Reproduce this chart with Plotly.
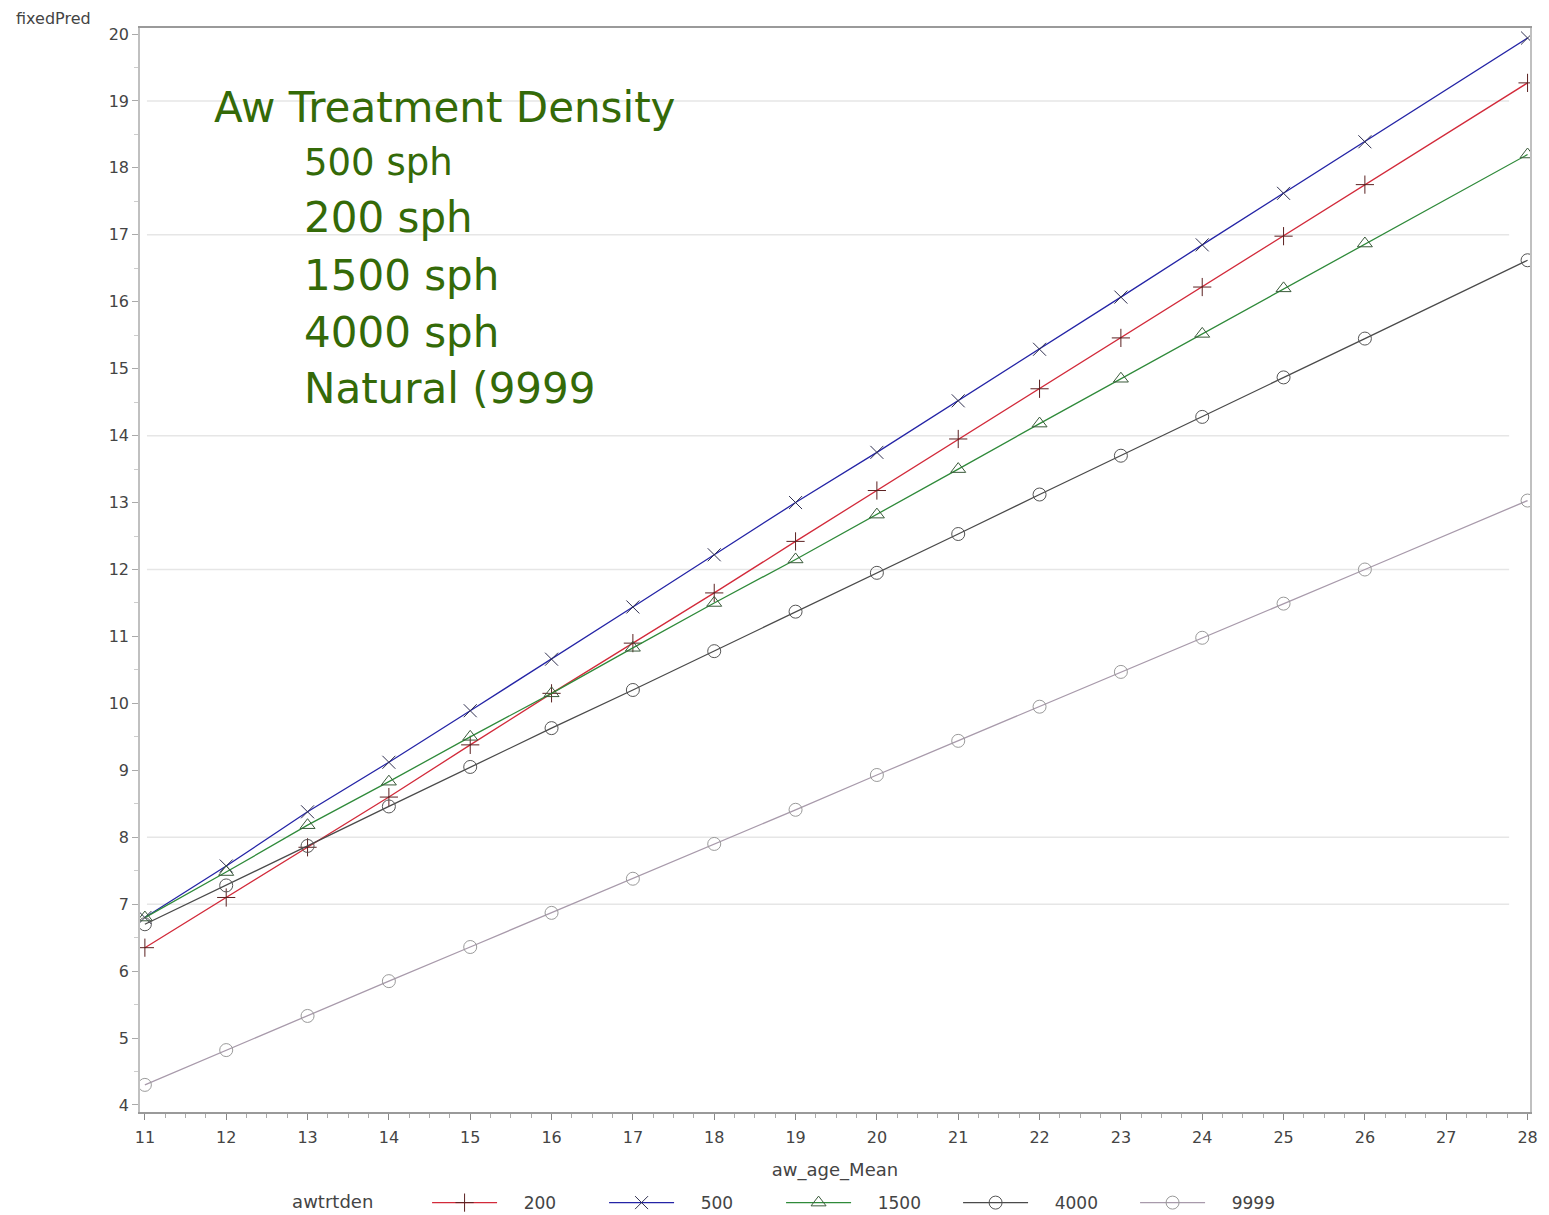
import plotly.graph_objects as go

# ---- data ----
ages = [11, 12, 13, 14, 15, 16, 17, 18, 19, 20, 21, 22, 23, 24, 25, 26, 28]

pred_200 = [6.35, 7.10, 7.85, 8.60, 9.38, 10.15, 10.90, 11.65, 12.42, 13.18, 13.95, 14.70, 15.46, 16.22, 16.98, 17.75, 19.27]
pred_500 = [6.80, 7.57, 8.38, 9.12, 9.89, 10.66, 11.44, 12.22, 13.00, 13.75, 14.52, 15.29, 16.07, 16.85, 17.62, 18.39, 19.94]
pred_1500 = [6.80, 7.48, 8.18, 8.83, 9.50, 10.15, 10.83, 11.50, 12.15, 12.82, 13.50, 14.18, 14.85, 15.52, 16.20, 16.87, 18.20]
pred_4000 = [6.70, 7.28, 7.87, 8.46, 9.05, 9.63, 10.20, 10.78, 11.37, 11.95, 12.53, 13.12, 13.70, 14.28, 14.87, 15.45, 16.62]
pred_9999 = [4.30, 4.82, 5.33, 5.85, 6.36, 6.87, 7.38, 7.90, 8.41, 8.93, 9.44, 9.95, 10.47, 10.98, 11.49, 12.00, 13.03]

series_names = ["200", "500", "1500", "4000", "9999"]
series_values = [pred_200, pred_500, pred_1500, pred_4000, pred_9999]
line_colors = ["#d22a3a", "#2424a6", "#2f8a3a", "#4a4a4a", "#a89aab"]
marker_colors = ["#5a2020", "#303050", "#3a5a3a", "#555555", "#9a9a9a"]
marker_symbols = ["cross-thin-open", "x-thin-open", "triangle-up-open", "circle-open", "circle-open"]

x_ticks = list(range(11, 29))
y_ticks = list(range(4, 21))
grid_values = [19, 17, 14, 12, 8, 7]

annot_title = "Aw Treatment Density"
annot_lines = ["500 sph", "200 sph", "1500 sph", "4000 sph", "Natural (9999"]
annot_sizes = [37, 42, 42, 42, 42]

# ---- figure ----
NB = "\u00a0"
fig = go.Figure()
for name, vals, lc, mc, sym in zip(series_names, series_values, line_colors, marker_colors, marker_symbols):
    fig.add_trace(go.Scatter(
        x=ages, y=vals, name=NB * 4 + name, mode="lines+markers",
        line=dict(color=lc, width=1.3),
        marker=dict(symbol=sym, size=13, color=mc, line=dict(width=1, color=mc)),
    ))

for gv in grid_values:
    fig.add_shape(type="line", xref="paper", yref="y", x0=0.005, x1=0.985, y0=gv, y1=gv,
                  line=dict(color="#e6e6e6", width=1.5), layer="below")

green = "#346a08"
fig.add_annotation(text=annot_title, xref="paper", yref="paper", x=0.0518, y=0.927,
                   xanchor="left", yanchor="middle", showarrow=False,
                   font=dict(family="DejaVu Sans", size=42, color=green))
line_ys = [0.876, 0.825, 0.772, 0.719, 0.667]
for txt, sz, yy in zip(annot_lines, annot_sizes, line_ys):
    fig.add_annotation(text=txt, xref="paper", yref="paper", x=0.1165, y=yy,
                       xanchor="left", yanchor="middle", showarrow=False,
                       font=dict(family="DejaVu Sans", size=sz, color=green))

axis_font = dict(family="DejaVu Sans", size=16, color="#444444")
fig.add_annotation(text="fixedPred", xref="paper", yref="paper", x=-0.091, y=1.009,
                   xanchor="left", yanchor="middle", showarrow=False,
                   font=dict(family="DejaVu Sans", size=16, color="#444444"))

fig.update_xaxes(
    range=[10.94, 28.03], tickvals=x_ticks, ticks="outside", ticklen=6, tickcolor="#888888",
    showline=True, linecolor="#9a9a9a", linewidth=1.5, mirror=True, showgrid=False, zeroline=False,
    tickfont=axis_font, ticklabelstandoff=4,
    minor=dict(ticks="outside", ticklen=4, dtick=0.25, tickcolor="#aaaaaa"),
    title=dict(text="aw_age_Mean", font=dict(family="DejaVu Sans", size=18, color="#444444"), standoff=17),
)
fig.update_yaxes(
    range=[3.895, 20.09], tickvals=y_ticks, ticks="outside", ticklen=6, tickcolor="#aaaaaa",
    showline=True, linecolor="#c0c0c0", linewidth=1.5, mirror=True, showgrid=False, zeroline=False,
    tickfont=axis_font,
    minor=dict(ticks="outside", ticklen=4, dtick=0.5, tickcolor="#cccccc"),
)
fig.update_layout(
    width=1549, height=1215,
    margin=dict(l=132, r=27, t=20, b=111, autoexpand=False),
    paper_bgcolor="white", plot_bgcolor="white",
    showlegend=True,
    legend=dict(
        orientation="h", x=0.108, y=-0.084, xanchor="left", yanchor="middle",
        title=dict(text="awtrtden" + NB * 8, font=dict(family="DejaVu Sans", size=18, color="#444444"), side="left"),
        font=dict(family="DejaVu Sans", size=17, color="#444444"),
        entrywidth=97, entrywidthmode="pixels",
        itemwidth=65,
    ),
)

fig.write_html("out.html")
